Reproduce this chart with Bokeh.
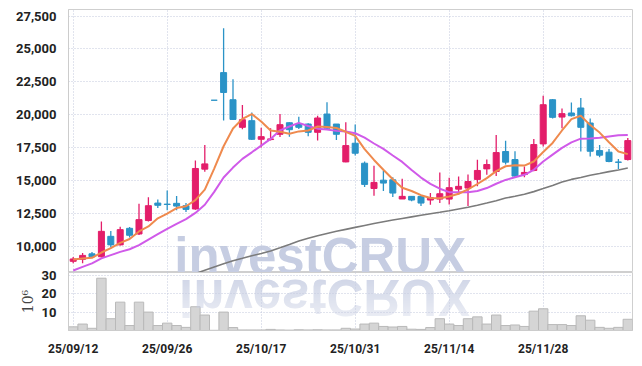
import math
from bokeh.plotting import figure
from bokeh.models import ColumnDataSource, Range1d, FixedTicker, NumeralTickFormatter, Label, Div
from bokeh.layouts import column
from bokeh.embed import file_html
from bokeh.resources import INLINE

dates = [
    "25/09/12",
    "25/09/15", "25/09/16", "25/09/17", "25/09/18", "25/09/19",
    "25/09/22", "25/09/23", "25/09/24", "25/09/25", "25/09/26",
    "25/09/29", "25/09/30", "25/10/01", "25/10/02", "25/10/10",
    "25/10/13", "25/10/14", "25/10/15", "25/10/16", "25/10/17",
    "25/10/20", "25/10/21", "25/10/22", "25/10/23", "25/10/24",
    "25/10/27", "25/10/28", "25/10/29", "25/10/30", "25/10/31",
    "25/11/03", "25/11/04", "25/11/05", "25/11/06", "25/11/07",
    "25/11/10", "25/11/11", "25/11/12", "25/11/13", "25/11/14",
    "25/11/17", "25/11/18", "25/11/19", "25/11/20", "25/11/21",
    "25/11/24", "25/11/25", "25/11/26", "25/11/27", "25/11/28",
    "25/12/01", "25/12/02", "25/12/03", "25/12/04", "25/12/05",
    "25/12/08", "25/12/09", "25/12/10", "25/12/11",
]

opens = [8850, 9000, 9420, 9200, 10750, 10100, 11360, 10930, 11950, 13280,
         13200, 13260, 13080, 12830, 15860, 21100, 23200, 21140, 19040, 19545,
         18130, 18110, 18510, 19390, 19290, 19290, 18660, 20050, 19290, 16410,
         17830, 16310, 14390, 15020, 15050, 13590, 13790, 13790, 13510, 13580,
         13580, 14340, 14420, 15080, 15880, 15680, 17200, 16590, 15450, 15760,
         17780, 21140, 19820, 20130, 20510, 19370, 17270, 17150, 16400, 16590]
highs = [9180, 9490, 9550, 11870, 11150, 11470, 11460, 13235, 13730, 13560,
         14240, 13810, 13280, 16515, 17700, 21100, 26570, 22700, 20735, 20170,
         19000, 18970, 20050, 19420, 19850, 19350, 19920, 20950, 19300, 19420,
         19250, 16440, 16110, 15760, 15250, 15130, 13800, 13840, 14040, 15610,
         15200, 15300, 15450, 16570, 16590, 18460, 18010, 17220, 16060, 18160,
         21440, 21190, 20480, 20930, 21270, 19720, 17700, 17400, 16640, 18235]
lows = [8700, 8700, 9130, 9150, 9900, 10050, 10660, 10850, 11870, 12900,
        12730, 12730, 12600, 12780, 15660, 21100, 19550, 19600, 18890, 18080,
        17500, 18030, 18310, 18330, 18920, 18360, 18030, 18860, 18080, 16390,
        16890, 14500, 13840, 14190, 13740, 13580, 13410, 13050, 13160, 13280,
        13180, 13940, 13050, 14550, 15430, 15330, 16210, 15250, 15250, 15700,
        17580, 19720, 18970, 19870, 17200, 16820, 16770, 16390, 15880, 16515]
closes = [9030, 9300, 9200, 11130, 10100, 11260, 10830, 12020, 13080, 13110,
          13170, 13050, 12800, 15910, 16260, 21100, 21690, 19640, 19620, 18130,
          18330, 18160, 19240, 18860, 19040, 18660, 19750, 18970, 18510, 17650,
          17070, 14700, 14850, 14800, 14040, 13790, 13510, 13280, 13690, 13990,
          14450, 14550, 14920, 15760, 16210, 17120, 16390, 15330, 15610, 17730,
          20760, 19800, 20080, 19920, 19040, 17220, 16920, 16440, 16380, 18030]

volumes_m = [2.0, 3.5, 1.2, 28.4, 6.4, 15.4, 2.7, 15.4, 10.0, 2.7,
             4.0, 2.7, 1.7, 12.9, 8.4, 0.1, 10.0, 1.6, 0.3, 0.3,
             0.3, 0.6, 0.3, 0.2, 0.4, 0.3, 0.4, 0.3, 0.3, 1.2,
             0.8, 3.5, 4.0, 2.2, 1.9, 2.2, 0.7, 0.6, 1.6, 6.4,
             3.5, 2.7, 6.4, 7.4, 3.5, 8.4, 2.7, 3.0, 2.2, 10.5,
             11.8, 3.2, 3.2, 2.7, 8.0, 5.6, 1.7, 1.2, 1.7, 6.1]

ma_short = [8990, 9060, 9120, 9520, 9850, 10250, 10550, 11120, 11500, 12120,
            12480, 12900, 13040, 13500, 14300, 15900, 17600, 18950, 19680, 20050,
            19480, 18800, 18700, 18550, 18730, 18800, 19100, 19060, 18990, 18700,
            18390, 17380, 16560, 15810, 15090, 14440, 14200, 13880, 13660, 13650,
            13780, 13990, 14320, 14730, 15180, 15710, 16080, 16160, 16130, 16440,
            17160, 17850, 18800, 19660, 19920, 19210, 18640, 17910, 17200, 17000]
ma_mid = [8150, 8430, 8690, 9070, 9320, 9570, 9770, 10080, 10500, 10910,
          11320, 11700, 12060, 12530, 13150, 14130, 15220, 15980, 16640, 17140,
          17650, 18160, 18810, 19100, 19380, 19140, 18940, 18880, 18770, 18720,
          18590, 18250, 17810, 17400, 16900, 16410, 15790, 15220, 14740, 14370,
          14110, 14100, 14100, 14200, 14420, 14750, 15040, 15240, 15430, 15810,
          16440, 16960, 17480, 17900, 18180, 18190, 18240, 18350, 18430, 18460]
nan = float("nan")
ma_long = [nan, nan, nan, nan, nan, nan, nan, nan, nan, nan,
           nan, nan, 7690, 7920, 8170, 8420, 8660, 8900, 9080, 9270,
           9450, 9640, 9880, 10130, 10400, 10600, 10790, 10960, 11130, 11280,
           11430, 11580, 11720, 11860, 11990, 12110, 12230, 12350, 12470, 12580,
           12700, 12830, 12960, 13110, 13280, 13460, 13660, 13800, 13950, 14150,
           14380, 14620, 14880, 15080, 15230, 15400, 15530, 15670, 15800, 15950]

tick_index = [0, 10, 20, 30, 40, 50]
price_ticks = [10000, 12500, 15000, 17500, 20000, 22500, 25000, 27500]
volume_ticks = [10, 20, 30]

UP = "#e31e6a"
DOWN = "#2b93c7"
GRID = "#c3c8dc"
LABEL_FONT = "Roboto"
WM_COLOR = "#c6cde2"

idx = list(range(len(dates)))
colors = [UP if c > o else DOWN for o, c in zip(opens, closes)]
src = ColumnDataSource(dict(
    x=idx, open=opens, high=highs, low=lows, close=closes,
    top=[max(o, c) for o, c in zip(opens, closes)],
    bottom=[min(o, c) for o, c in zip(opens, closes)],
    color=colors, vol=volumes_m,
    ma_s=ma_short, ma_m=ma_mid, ma_l=ma_long,
))

x_range = Range1d(-0.5, len(dates) - 0.5)

p = figure(width=634, height=272, x_range=x_range, y_range=Range1d(8000, 28000),
           x_axis_location=None, toolbar_location=None, output_backend="svg",
           min_border_left=68, min_border_right=2, min_border_top=9, min_border_bottom=0,
           background_fill_color="white", border_fill_color="white")
p.outline_line_color = "#cfcfcf"
p.yaxis.ticker = FixedTicker(ticks=price_ticks)
p.yaxis.formatter = NumeralTickFormatter(format="0,0")
p.yaxis.major_tick_line_color = None
p.yaxis.minor_tick_line_color = None
p.yaxis.axis_line_color = "#cccccc"
p.yaxis.major_label_standoff = 6
p.yaxis.major_label_text_font = LABEL_FONT
p.yaxis.major_label_text_font_style = "bold"
p.yaxis.major_label_text_font_size = "13px"
p.yaxis.major_label_text_color = "#222222"
p.ygrid.ticker = FixedTicker(ticks=price_ticks)
p.xgrid.ticker = FixedTicker(ticks=tick_index)
for g in (p.xgrid, p.ygrid):
    g.grid_line_color = GRID
    g.grid_line_dash = "1 2"
    g.grid_line_width = 1

wm = Label(x=10.75, y=9180, text="investCRUX", text_font="Liberation Sans",
           text_font_style="bold", text_font_size="51px", text_color=WM_COLOR,
           text_align="left", text_baseline="alphabetic", level="image")
p.add_layout(wm)

p.segment(x0="x", y0="low", x1="x", y1="high", color="color", line_width=1.3, source=src)
p.vbar(x="x", width=0.64, top="top", bottom="bottom", fill_color="color",
       line_color="color", line_width=1, source=src)
p.line("x", "ma_l", color="#7b7b7b", line_width=1.6, source=src)
p.line("x", "ma_m", color="#d05ae9", line_width=2, source=src)
p.line("x", "ma_s", color="#ef8a4e", line_width=2, source=src)

v = figure(width=634, height=94, x_range=x_range, y_range=Range1d(0, 31.5),
           toolbar_location=None, output_backend="svg",
           min_border_left=68, min_border_right=2, min_border_top=8, min_border_bottom=21,
           background_fill_color="white", border_fill_color=None,
           styles={"margin-top": "-8px"})
v.outline_line_color = "#cfcfcf"
v.vbar(x="x", width=1.0, top="vol", bottom=0, fill_color="#d5d5d5",
       line_color="#b9b9b9", line_width=1, source=src)
v.yaxis.ticker = FixedTicker(ticks=volume_ticks)
v.xaxis.ticker = FixedTicker(ticks=tick_index)
v.xaxis.major_label_overrides = {i: dates[i] for i in tick_index}
v.ygrid.ticker = FixedTicker(ticks=volume_ticks)
v.xgrid.ticker = FixedTicker(ticks=tick_index)
for g in (v.xgrid, v.ygrid):
    g.grid_line_color = GRID
    g.grid_line_dash = "1 2"
    g.grid_line_width = 1
for ax in (v.xaxis, v.yaxis):
    ax.major_tick_line_color = None
    ax.minor_tick_line_color = None
    ax.axis_line_color = "#cccccc"
    ax.major_label_standoff = 6
    ax.major_label_text_font = LABEL_FONT
    ax.major_label_text_font_style = "bold"
    ax.major_label_text_color = "#222222"
v.yaxis.major_label_text_font_size = "13px"
v.xaxis.major_label_text_font_size = "12px"
v.xaxis.major_label_standoff = 5
v.yaxis.axis_label = "10\u2076"
v.yaxis.axis_label_text_font = "DejaVu Serif"
v.yaxis.axis_label_text_font_style = "normal"
v.yaxis.axis_label_text_font_size = "14px"
v.yaxis.axis_label_text_color = "#444444"
v.yaxis.axis_label_standoff = 3

refl_html = (
    '<div style="position:relative; left:174px; top:-91px; width:320px; height:51px; '
    'font-family:\'Liberation Sans\'; font-weight:bold; font-size:51px; line-height:51px; '
    'color:' + WM_COLOR + '; white-space:nowrap; transform:scaleY(-1); pointer-events:none; '
    '-webkit-mask-image:linear-gradient(to top, rgba(0,0,0,0.8) 15%, rgba(0,0,0,0.3) 100%); '
    'mask-image:linear-gradient(to top, rgba(0,0,0,0.8) 15%, rgba(0,0,0,0.3) 100%);">investCRUX</div>'
)
refl = Div(text=refl_html, width=634, height=1, styles={"overflow": "visible"})

layout = column(p, v, refl, spacing=0)
open("out.html", "w").write(file_html(layout, INLINE))
